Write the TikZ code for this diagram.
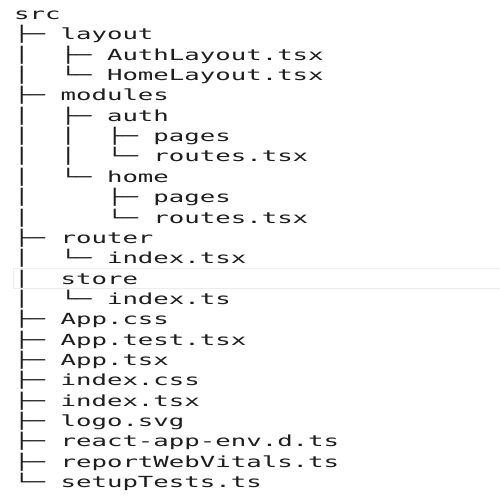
\documentclass[tikz,border=0pt]{standalone}
\usepackage{fontspec}
\newfontfamily\treemono[FakeStretch=1.68]{DejaVu Sans Mono}
\definecolor{treeink}{HTML}{1E1E1E}
\definecolor{hiline}{HTML}{EDEDED}
\begin{document}
\begin{tikzpicture}[x=1pt,y=-1pt,
  row/.style={anchor=base west,inner sep=0pt,text=treeink,font=\treemono\fontsize{15.3}{18}\selectfont}]
\useasboundingbox[fill=white] (0,0) rectangle (500,500);
\draw[hiline,line width=0.8pt] (500,268) -- (13.5,268) -- (13.5,288) -- (500,288);
\def\rx{14}
\def\by{19.5}
\def\pitch{20.35}
\node[row] (l0) at (\rx,\by+0*\pitch) {src};
\node[row] (l1) at (\rx,\by+1*\pitch) {├─~layout};
\node[row] (l2) at (\rx,\by+2*\pitch) {│~~├─~AuthLayout.tsx};
\node[row] (l3) at (\rx,\by+3*\pitch) {│~~└─~HomeLayout.tsx};
\node[row] (l4) at (\rx,\by+4*\pitch) {├─~modules};
\node[row] (l5) at (\rx,\by+5*\pitch) {│~~├─~auth};
\node[row] (l6) at (\rx,\by+6*\pitch) {│~~│~~├─~pages};
\node[row] (l7) at (\rx,\by+7*\pitch) {│~~│~~└─~routes.tsx};
\node[row] (l8) at (\rx,\by+8*\pitch) {│~~└─~home};
\node[row] (l9) at (\rx,\by+9*\pitch) {│~~~~~├─~pages};
\node[row] (l10) at (\rx,\by+10*\pitch) {│~~~~~└─~routes.tsx};
\node[row] (l11) at (\rx,\by+11*\pitch) {├─~router};
\node[row] (l12) at (\rx,\by+12*\pitch) {│~~└─~index.tsx};
\node[row] (l13) at (\rx,\by+13*\pitch) {│~~store};
\node[row] (l14) at (\rx,\by+14*\pitch) {│~~└─~index.ts};
\node[row] (l15) at (\rx,\by+15*\pitch) {├─~App.css};
\node[row] (l16) at (\rx,\by+16*\pitch) {├─~App.test.tsx};
\node[row] (l17) at (\rx,\by+17*\pitch) {├─~App.tsx};
\node[row] (l18) at (\rx,\by+18*\pitch) {├─~index.css};
\node[row] (l19) at (\rx,\by+19*\pitch) {├─~index.tsx};
\node[row] (l20) at (\rx,\by+20*\pitch) {├─~logo.svg};
\node[row] (l21) at (\rx,\by+21*\pitch) {├─~react-app-env.d.ts};
\node[row] (l22) at (\rx,\by+22*\pitch) {├─~reportWebVitals.ts};
\node[row] (l23) at (\rx,\by+23*\pitch) {└─~setupTests.ts};
\end{tikzpicture}
\end{document}
